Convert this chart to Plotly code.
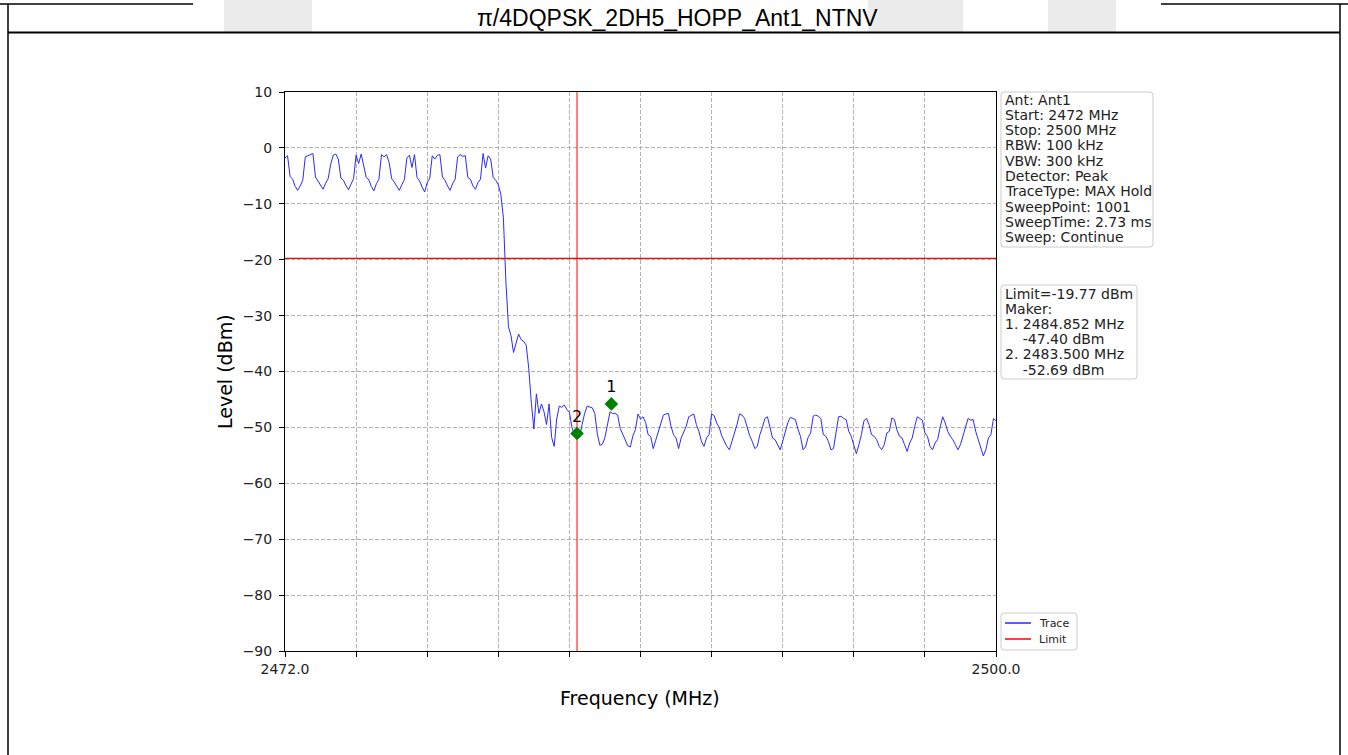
import plotly.graph_objects as go

# ---------------- data ----------------
title_text = "π/4DQPSK_2DH5_HOPP_Ant1_NTNV"

freq_start_mhz = 2472.0
freq_stop_mhz = 2500.0
freq_step_mhz = 0.1
freq_mhz = [round(freq_start_mhz + freq_step_mhz * i, 1) for i in range(281)]

level_dbm = [
    -1.8, -1.4, -5.1, -5.6, -6.9, -7.6, -6.8, -5.8, -1.6, -1.4,          # 2472
    -1.1, -1.0, -5.2, -5.9, -6.6, -7.4, -6.3, -5.5, -2.9, -1.3,          # 2473
    -1.1, -2.0, -5.4, -5.8, -6.7, -7.5, -6.5, -5.5, -1.3, -2.8,          # 2474
    -1.1, -3.0, -5.3, -5.7, -6.9, -7.7, -6.4, -5.6, -1.2, -1.6,          # 2475
    -1.2, -2.6, -5.5, -6.1, -6.8, -7.6, -6.6, -5.7, -1.8, -1.3,          # 2476
    -3.5, -1.2, -5.3, -5.9, -7.0, -7.9, -6.2, -5.4, -1.4, -2.0,          # 2477
    -1.3, -1.2, -5.2, -5.8, -6.8, -7.6, -6.4, -5.6, -1.6, -1.2,          # 2478
    -1.5, -1.4, -5.3, -5.6, -6.8, -7.4, -6.2, -5.6, -1.0, -3.6,          # 2479
    -1.4, -2.0, -5.3, -5.8, -6.6, -8.3, -12.5, -24.0, -32.0, -33.6,      # 2480
    -36.6, -35.0, -33.3, -34.3, -34.6, -35.3, -39.5, -45.5, -50.3, -44.0,  # 2481
    -47.5, -45.8, -47.2, -49.5, -45.8, -51.8, -53.4, -48.5, -46.2, -46.4,  # 2482
    -46.0, -46.8, -47.3, -50.0, -51.3, -51.5, -51.8, -49.5, -47.5, -46.2,  # 2483
    -46.4, -46.5, -47.5, -51.2, -53.2, -53.0, -51.8, -49.6, -47.2, -47.5,  # 2484
    -47.5, -47.8, -50.2, -51.2, -52.2, -53.3, -53.5, -51.5, -50.4, -47.6,  # 2485
    -48.5, -48.1, -49.1, -51.3, -51.6, -53.8, -52.3, -50.8, -49.6, -47.8,  # 2486
    -47.6, -47.5, -49.8, -51.3, -51.9, -53.8, -51.9, -50.7, -49.8, -48.1,  # 2487
    -47.9, -47.6, -49.5, -50.7, -52.5, -53.4, -51.9, -51.3, -47.6, -47.9,  # 2488
    -49.2, -50.0, -51.5, -52.5, -53.4, -54.0, -52.5, -51.3, -49.5, -47.6,  # 2489
    -47.8, -48.4, -50.0, -51.5, -52.5, -53.8, -53.4, -51.3, -50.0, -48.4,  # 2490
    -48.1, -49.8, -51.9, -52.2, -53.1, -54.0, -52.5, -50.7, -49.2, -48.2,  # 2491
    -48.4, -48.6, -50.3, -51.6, -54.0, -53.5, -51.8, -51.0, -48.0, -47.8,  # 2492
    -48.0, -48.4, -51.3, -51.6, -52.5, -54.0, -53.8, -51.3, -48.1, -48.0,  # 2493
    -48.4, -48.6, -50.7, -51.6, -53.1, -54.7, -53.1, -51.3, -48.8, -48.4,  # 2494
    -49.5, -51.3, -51.6, -52.2, -53.4, -54.0, -53.1, -51.0, -50.7, -48.3,  # 2495
    -48.6, -50.5, -51.6, -51.9, -53.1, -54.3, -52.8, -51.9, -49.8, -48.1,  # 2496
    -48.4, -48.7, -51.0, -51.6, -53.4, -54.0, -52.8, -52.2, -50.0, -48.1,  # 2497
    -49.2, -50.7, -51.6, -52.2, -53.1, -54.0, -53.1, -51.6, -50.0, -48.4,  # 2498
    -48.7, -48.6, -50.7, -52.2, -53.8, -55.1, -54.0, -51.9, -51.3, -48.4,  # 2499
    -48.8,                                                               # 2500
]

limit_dbm = -19.77
marker_labels = ["1", "2"]
marker_freq_mhz = [2484.852, 2483.500]
marker_level_dbm = [-47.40, -52.69]
marker_display_offset_db = 1.6
vline_freq_mhz = 2483.5

x_tickvals = [2472.0, 2474.8, 2477.6, 2480.4, 2483.2, 2486.0, 2488.8, 2491.6, 2494.4, 2497.2, 2500.0]
x_ticktext = ["2472.0", "", "", "", "", "", "", "", "", "", "2500.0"]
y_tickvals = [10, 0, -10, -20, -30, -40, -50, -60, -70, -80, -90]

info_lines = [
    "Ant: Ant1", "Start: 2472 MHz", "Stop: 2500 MHz", "RBW: 100 kHz", "VBW: 300 kHz",
    "Detector: Peak", "TraceType: MAX Hold", "SweepPoint: 1001", "SweepTime: 2.73 ms",
    "Sweep: Continue",
]
marker_info_lines = [
    "Limit=-19.77 dBm", "Maker:", "1. 2484.852 MHz", "\u00a0\u00a0\u00a0\u00a0-47.40 dBm",
    "2. 2483.500 MHz", "\u00a0\u00a0\u00a0\u00a0-52.69 dBm",
]
legend_names = ["Trace", "Limit"]
trace_color = "#2a2aff"
limit_color = "#ff0000"

# ---------------- layout geometry (pixels) ----------------
W, H = 1348, 755
PL, PR, PT, PB = 285, 996, 92, 651


def px_x(px):
    return (px - PL) / (PR - PL)


def px_y(py):
    return (PB - py) / (PB - PT)


def rounded_box(x0, y0, x1, y1, r=3):
    X = lambda v: f"{px_x(v):.6f}"
    Y = lambda v: f"{px_y(v):.6f}"
    return (f"M {X(x0 + r)},{Y(y0)} L {X(x1 - r)},{Y(y0)} Q {X(x1)},{Y(y0)} {X(x1)},{Y(y0 + r)} "
            f"L {X(x1)},{Y(y1 - r)} Q {X(x1)},{Y(y1)} {X(x1 - r)},{Y(y1)} "
            f"L {X(x0 + r)},{Y(y1)} Q {X(x0)},{Y(y1)} {X(x0)},{Y(y1 - r)} "
            f"L {X(x0)},{Y(y0 + r)} Q {X(x0)},{Y(y0)} {X(x0 + r)},{Y(y0)} Z")


FONT = "DejaVu Sans"

fig = go.Figure()

fig.add_trace(go.Scatter(
    x=freq_mhz, y=level_dbm, mode="lines", name=legend_names[0],
    line=dict(color=trace_color, width=1), showlegend=False,
))
fig.add_trace(go.Scatter(
    x=[freq_start_mhz, freq_stop_mhz], y=[limit_dbm, limit_dbm], mode="lines", name=legend_names[1],
    line=dict(color=limit_color, width=1.2), showlegend=False,
))
fig.add_trace(go.Scatter(
    x=[vline_freq_mhz, vline_freq_mhz], y=[-90, 10], mode="lines", showlegend=False,
    line=dict(color=limit_color, width=1),
))
fig.add_trace(go.Scatter(
    x=marker_freq_mhz, y=[v + marker_display_offset_db for v in marker_level_dbm],
    mode="markers+text", text=marker_labels, textposition="top center",
    textfont=dict(family=FONT, size=16, color="black"),
    marker=dict(symbol="diamond", size=10.5, color="#008000"),
    showlegend=False,
))

shapes = []
# grey bands in title row
for x0, x1 in [(224, 312), (868, 963), (1048, 1116)]:
    shapes.append(dict(type="rect", xref="paper", yref="paper", x0=px_x(x0), x1=px_x(x1),
                       y0=px_y(32), y1=px_y(0), fillcolor="#ebebeb", line=dict(width=0), layer="below"))
# frame lines
line_k = dict(color="black", width=1.5)
shapes += [
    dict(type="line", xref="paper", yref="paper", x0=px_x(0), x1=px_x(193), y0=px_y(4), y1=px_y(4), line=line_k),
    dict(type="line", xref="paper", yref="paper", x0=px_x(1161), x1=px_x(1348), y0=px_y(4), y1=px_y(4), line=line_k),
    dict(type="line", xref="paper", yref="paper", x0=px_x(8), x1=px_x(1340), y0=px_y(32.5), y1=px_y(32.5),
         line=dict(color="black", width=2)),
    dict(type="line", xref="paper", yref="paper", x0=px_x(8), x1=px_x(8), y0=px_y(4), y1=px_y(756), line=line_k),
    dict(type="line", xref="paper", yref="paper", x0=px_x(1340), x1=px_x(1340), y0=px_y(4), y1=px_y(756), line=line_k),
]
# info boxes + legend box (rounded)
for bx0, by0, bx1, by1 in [(1001, 92, 1153, 247), (1001, 285, 1137, 379), (1001, 613, 1077, 650)]:
    shapes.append(dict(type="path", xref="paper", yref="paper", path=rounded_box(bx0, by0, bx1, by1),
                       fillcolor="white", line=dict(color="#cccccc", width=1), layer="above"))
# legend handles
for i, col in enumerate([trace_color, limit_color]):
    yy = px_y(623 + 16 * i)
    shapes.append(dict(type="line", xref="paper", yref="paper", x0=px_x(1005), x1=px_x(1031),
                       y0=yy, y1=yy, line=dict(color=col, width=1.5), layer="above"))

annotations = [
    dict(text=title_text, xref="paper", yref="paper", x=px_x(677), y=px_y(18.5), showarrow=False,
         xanchor="center", yanchor="middle", font=dict(family="Liberation Sans", size=23, color="black")),
    dict(text="Level (dBm)", xref="paper", yref="paper", x=px_x(225), y=px_y(372), showarrow=False,
         textangle=-90, xanchor="center", yanchor="middle", font=dict(family=FONT, size=19, color="black")),
    dict(text="Frequency (MHz)", xref="paper", yref="paper", x=px_x(640), y=px_y(698), showarrow=False,
         xanchor="center", yanchor="middle", font=dict(family=FONT, size=19, color="black")),
]
for i, t in enumerate(info_lines):
    annotations.append(dict(text=t, xref="paper", yref="paper", x=px_x(1003), y=px_y(99.5 + 15.33 * i),
                            showarrow=False, xanchor="left", yanchor="middle", align="left",
                            font=dict(family=FONT, size=14, color="#222222")))
for i, t in enumerate(marker_info_lines):
    annotations.append(dict(text=t, xref="paper", yref="paper", x=px_x(1003), y=px_y(293.5 + 15.2 * i),
                            showarrow=False, xanchor="left", yanchor="middle", align="left",
                            font=dict(family=FONT, size=14, color="#222222")))
for i, t in enumerate(legend_names):
    annotations.append(dict(text=t, xref="paper", yref="paper", x=px_x(1037), y=px_y(623 + 16 * i),
                            showarrow=False, xanchor="left", yanchor="middle", align="left",
                            font=dict(family=FONT, size=11, color="#222222")))

fig.update_layout(
    width=W, height=H,
    margin=dict(l=PL, r=W - PR, t=PT, b=H - PB, autoexpand=False),
    paper_bgcolor="white", plot_bgcolor="white",
    font=dict(family=FONT, size=14, color="#222222"),
    shapes=shapes, annotations=annotations,
    showlegend=False,
)

fig.update_xaxes(
    range=[freq_start_mhz, freq_stop_mhz], tickvals=x_tickvals, ticktext=x_ticktext,
    showgrid=True, gridcolor="#b0b0b0", gridwidth=0.8, griddash="4px,2px",
    showline=True, linecolor="black", linewidth=1, mirror=True,
    ticks="outside", ticklen=5, tickcolor="black", tickfont=dict(size=14, color="#222222"),
    zeroline=False,
)
fig.update_yaxes(
    range=[-90, 10], tickvals=y_tickvals,
    showgrid=True, gridcolor="#b0b0b0", gridwidth=0.8, griddash="4px,2px",
    showline=True, linecolor="black", linewidth=1, mirror=True,
    ticks="outside", ticklen=5, tickcolor="black", tickfont=dict(size=14, color="#222222"),
    ticklabelstandoff=4,
    zeroline=False,
)

fig.write_html("out.html", config={"displayModeBar": False},
               post_script="document.body.style.margin='0px';")
